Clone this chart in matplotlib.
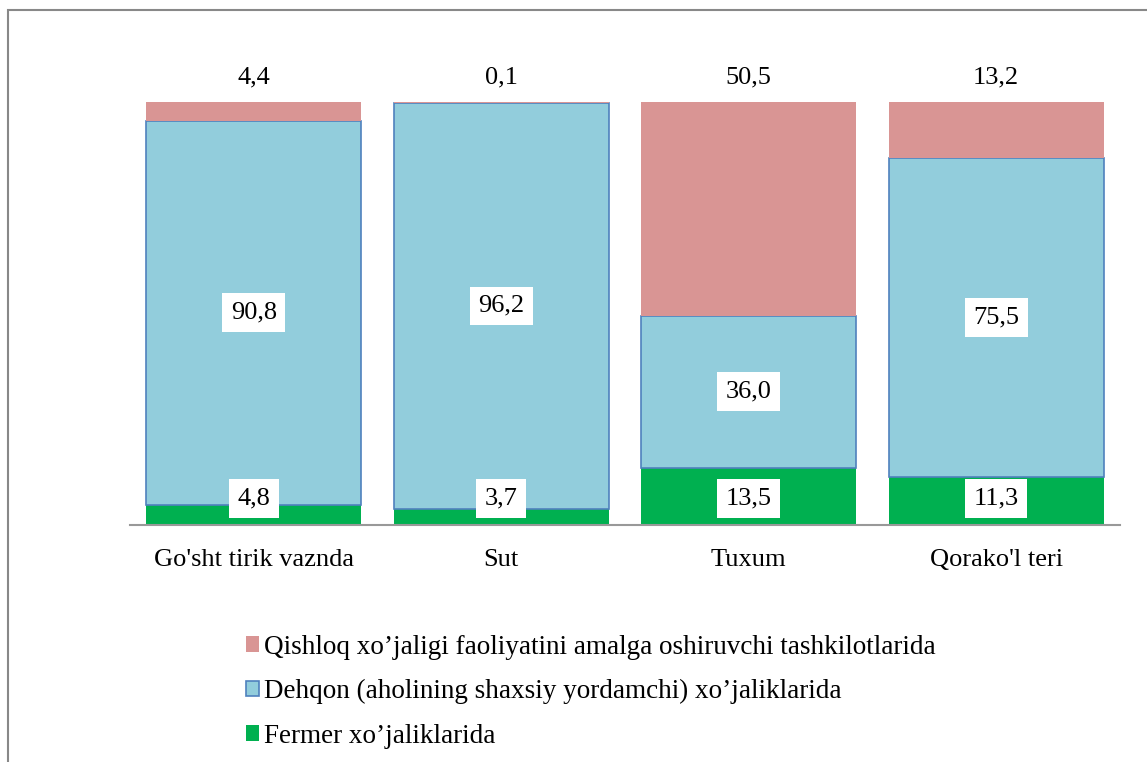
import matplotlib.pyplot as plt
from matplotlib.patches import Patch, Rectangle

plt.rcParams['font.family'] = ['Liberation Serif', 'DejaVu Serif']

kategoriyalar = ["Go'sht tirik vaznda", "Sut", "Tuxum", "Qorako'l teri"]
fermer = [4.8, 3.7, 13.5, 11.3]
dehqon = [90.8, 96.2, 36.0, 75.5]
tashkilot = [4.4, 0.1, 50.5, 13.2]
nomlar = ["Qishloq xo’jaligi faoliyatini amalga oshiruvchi tashkilotlarida",
          "Dehqon (aholining shaxsiy yordamchi) xo’jaliklarida",
          "Fermer xo’jaliklarida"]

def fmt(v):
    return ('%.1f' % v).replace('.', ',')

fig = plt.figure(figsize=(11.47, 7.62), dpi=100)
ax = fig.add_axes([0.1133, 0.311, 0.8631, 0.555])

x = range(len(kategoriyalar))
w = 0.87
pastki = fermer
orta = [a + b for a, b in zip(fermer, dehqon)]

ax.bar(x, fermer, w, color='#00B050', linewidth=0)
ax.bar(x, dehqon, w, bottom=pastki, color='#92CDDC', edgecolor='#4F81BD', linewidth=1.2)
ax.bar(x, tashkilot, w, bottom=orta, color='#D99594', linewidth=0)

box = dict(facecolor='white', edgecolor='none', pad=6)
fs = 19
for i in x:
    ax.annotate(fmt(fermer[i]), (i, 0), xytext=(0, 19), textcoords='offset points',
                ha='center', va='center', fontsize=fs, bbox=box)
    ax.text(i, fermer[i] + dehqon[i] / 2, fmt(dehqon[i]), ha='center', va='center',
            fontsize=fs, bbox=box)
    ax.annotate(fmt(tashkilot[i]), (i, 100), xytext=(0, 18), textcoords='offset points',
                ha='center', va='center', fontsize=fs)

ax.set_xlim(-0.5, 3.5)
ax.set_ylim(0, 100)
ax.set_yticks([])
ax.set_xticks(list(x))
ax.set_xticklabels(kategoriyalar, fontsize=fs)
ax.tick_params(axis='x', length=0, pad=17)
for s in ['top', 'right', 'left']:
    ax.spines[s].set_visible(False)
ax.spines['bottom'].set_color('#999999')
ax.spines['bottom'].set_linewidth(1.5)

# ramka
fig.patches.append(Rectangle((8 / 1147, -0.1), 1.1, 1 - 10 / 762 + 0.1,
                             transform=fig.transFigure, fill=False,
                             edgecolor='#888888', linewidth=1.5))

handles = [Patch(facecolor='#D99594', edgecolor='none'),
           Patch(facecolor='#92CDDC', edgecolor='#4F81BD', linewidth=1.2),
           Patch(facecolor='#00B050', edgecolor='none')]
fig.legend(handles, nomlar, loc='upper left', bbox_to_anchor=(232 / 1147, 1 - 621 / 762),
           frameon=False, fontsize=19.5, handlelength=0.5, handleheight=0.5,
           handletextpad=0.2, labelspacing=0.72, borderpad=0)

fig.savefig('out.png', dpi=100)
